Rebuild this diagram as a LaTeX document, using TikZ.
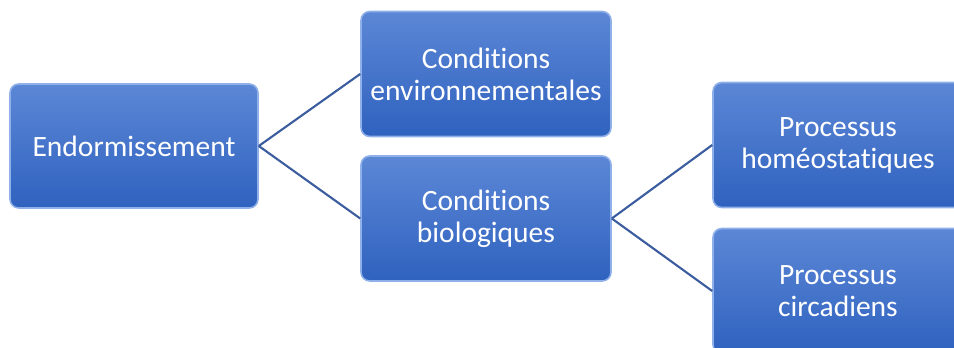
\documentclass[tikz,border=0pt]{standalone}
\usepackage{xcolor}
\usepackage{fontspec}
\setmainfont{Carlito}[Ligatures = NoCommon]
\usepackage{tikz}
\usetikzlibrary{calc}
\usetikzlibrary{positioning}
\definecolor{boxtop}{HTML}{5C87D6}
\definecolor{boxbot}{HTML}{2F62BF}
\definecolor{boxedge}{HTML}{8FB0E8}
\definecolor{linkcol}{HTML}{3B5C9E}
\tikzstyle{bloc} = [rectangle, rounded corners = 5pt, draw = boxedge, line width = 0.9pt,
  top color = boxtop, bottom color = boxbot, text = white, align = center,
  minimum width = 5cm, minimum height = 2.5cm, inner sep = 2pt,
  font = \fontsize{16.8}{18.3}\selectfont]
\tikzstyle{lien} = [-, draw = linkcol, line width = 1.2pt]

\begin{document}
\begin{tikzpicture}
 \useasboundingbox (0, 0) rectangle (19.08, 6.96);
 \clip (0, 0) rectangle (19.08, 6.96);
 \node [bloc, minimum width = 4.96cm, minimum height = 2.48cm] (E) at (2.68, 4.04) {Endormissement};
 \node [bloc] (CE) at (9.72, 5.48) {Conditions\\environnementales};
 \node [bloc] (CB) at (9.72, 2.59) {Conditions\\biologiques};
 \node [bloc] (PH) at (16.76, 4.06) {Processus\\homéostatiques};
 \node [bloc] (PC) at (16.76, 1.14) {Processus\\circadiens};
 \draw [lien] (E.east) to (CE.west);
 \draw [lien] (E.east) to (CB.west);
 \draw [lien] (CB.east) to (PH.west);
 \draw [lien] (CB.east) to (PC.west);
\end{tikzpicture}
\end{document}
